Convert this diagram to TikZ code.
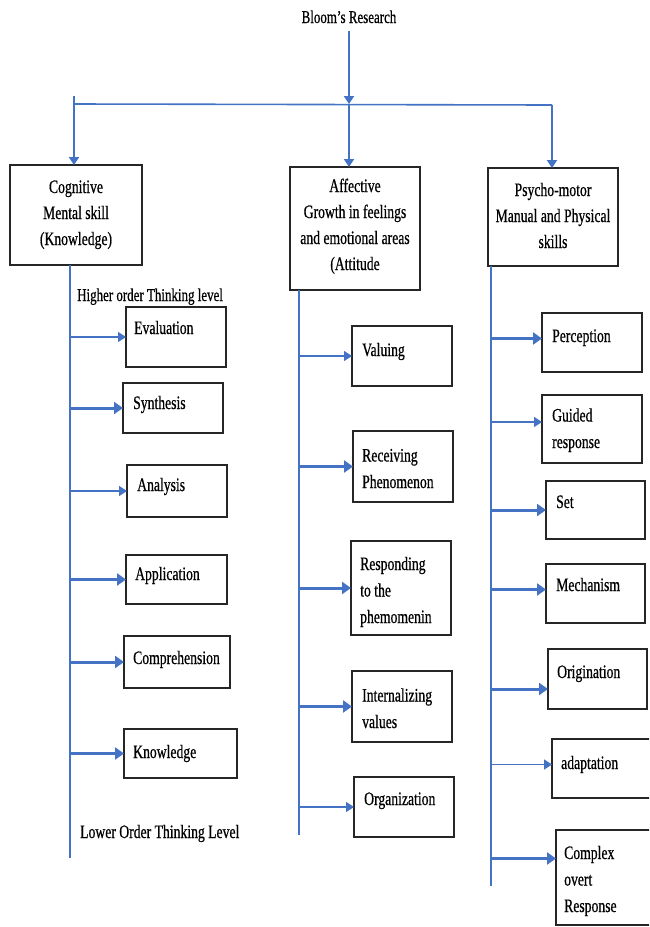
\documentclass[tikz,border=0pt]{standalone}
\usepackage{fontspec}
\setmainfont{Liberation Serif}[FakeStretch=0.72,FakeBold=0.6]
\usetikzlibrary{arrows.meta,calc}
\definecolor{lnblue}{HTML}{4472C4}
\definecolor{boxline}{HTML}{262626}
\tikzset{
  box/.style={draw=boxline,line width=1.5pt,rectangle,inner sep=0pt,outer sep=0pt,anchor=north west},
  lbl/.style={font=\fontsize{19}{26.5}\selectfont,inner sep=0pt,anchor=base west,align=left,text=black},
  hd/.style={font=\fontsize{19}{26}\selectfont,inner sep=0pt,anchor=base,align=center,text=black},
  thinarr/.style={draw=lnblue,line width=1.3pt,-{Triangle[length=8pt,width=10pt]},lnblue},
  thickarr/.style={draw=lnblue,line width=3pt,-{Triangle[length=9pt,width=12pt]},lnblue},
  toparr/.style={draw=lnblue,line width=2pt,-{Triangle[length=8pt,width=10pt]},lnblue},
  spine/.style={draw=lnblue,line width=1.3pt},
}
\newcommand\bx[5]{\node[box,minimum width={(#4)-(#2)},minimum height={(#5)-(#3)}] (#1) at (#2,#3) {};}
\begin{document}
\begin{tikzpicture}[x=1pt,y=-1pt]
\useasboundingbox (0,0) rectangle (649,927);
\clip (0,0) rectangle (649,927);
\fill[white] (0,0) rectangle (649,927);

% title and bus
\node[hd,font=\fontsize{18}{24}\selectfont] (title) at (349,23) {Bloom’s Research};
\coordinate (hub) at (349,104);
\coordinate (busL) at (74,104);
\coordinate (busR) at (552,105);
\coordinate (dl) at (74,96);

% top boxes (multi-line nodes: base = last line)
\bx{cog}{10}{165}{142}{265}
\bx{aff}{290}{167}{420}{290}
\bx{psy}{488}{168}{618}{266}
\node[hd] (tcog) at (76,245) {Cognitive\\Mental skill\\(Knowledge)};
\node[hd] (taff) at (355,270) {Affective\\Growth in feelings\\and emotional areas\\(Attitude};
\node[hd] (tpsy) at (553,248) {Psycho-motor\\Manual and Physical\\skills};

\draw[toparr] ([yshift=-8pt]title.south) -- (hub);
\draw[spine,line width=1.6pt] (busL) -- (busR);
\draw[toparr] (dl) -- (dl |- cog.north);
\draw[toparr] (hub) -- (hub |- aff.north);
\draw[toparr] (busR) -- (busR |- psy.north);

% cognitive column
\coordinate (cs1) at (70,265);
\coordinate (cs2) at (70,858);
\draw[spine] (cs1) -- (cs2);
\node[lbl,font=\fontsize{18}{24}\selectfont] (hot) at (77,301) {Higher order Thinking level};
\node[lbl] (lot) at (80,838) {Lower Order Thinking Level};
\bx{eval}{126}{307}{226}{367}
\bx{syn}{123}{383}{223}{433}
\bx{ana}{127}{465}{227}{517}
\bx{app}{126}{555}{227}{604}
\bx{comp}{124}{636}{230}{688}
\bx{know}{124}{729}{237}{778}
\node[lbl] (teval) at (134,334) {Evaluation};
\node[lbl] (tsyn) at (133,409) {Synthesis};
\node[lbl] (tana) at (137,491) {Analysis};
\node[lbl] (tapp) at (135,580) {Application};
\node[lbl] (tcomp) at (133,664) {Comprehension};
\node[lbl] (tknow) at (133,758) {Knowledge};
\draw[thinarr] (cs1 |- eval.west) -- (eval.west);
\draw[thickarr] (cs1 |- syn.west) -- (syn.west);
\draw[thinarr] (cs1 |- ana.west) -- (ana.west);
\draw[thickarr] (cs1 |- app.west) -- (app.west);
\draw[thickarr] (cs1 |- comp.west) -- (comp.west);
\draw[thickarr] (cs1 |- know.west) -- (know.west);

% affective column
\coordinate (as1) at (299,290);
\coordinate (as2) at (299,835);
\draw[spine] (as1) -- (as2);
\bx{val}{352}{326}{452}{386}
\bx{rec}{353}{431}{453}{502}
\bx{resp}{351}{541}{451}{635}
\bx{intv}{352}{671}{452}{742}
\bx{org}{354}{777}{454}{837}
\node[lbl] (tval) at (362,356) {Valuing};
\node[lbl] (trec) at (362,488) {Receiving\\Phenomenon};
\node[lbl] (tresp) at (360,623) {Responding\\to the\\phemomenin};
\node[lbl] (tintv) at (362,728) {Internalizing\\values};
\node[lbl] (torg) at (364,805) {Organization};
\draw[thinarr] (as1 |- val.west) -- (val.west);
\draw[thickarr] (as1 |- rec.west) -- (rec.west);
\draw[thickarr] (as1 |- resp.west) -- (resp.west);
\draw[thickarr] (as1 |- intv.west) -- (intv.west);
\draw[thinarr] (as1 |- org.west) -- (org.west);

% psycho-motor column
\coordinate (ps1) at (491,266);
\coordinate (ps2) at (493,886);
\draw[spine] (ps1) -- (ps1 |- ps2);
\bx{perc}{542}{313}{642}{372}
\bx{guid}{542}{395}{642}{463}
\bx{set}{546}{481}{645}{539}
\bx{mech}{546}{564}{645}{623}
\bx{orig}{548}{649}{647}{709}
\bx{adap}{552}{739}{660}{798}
\bx{cplx}{556}{830}{660}{925}
\node[lbl] (tperc) at (552,342) {Perception};
\node[lbl] (tguid) at (552,448) {Guided\\response};
\node[lbl] (tset) at (556,508) {Set};
\node[lbl] (tmech) at (556,591) {Mechanism};
\node[lbl] (torig) at (557,678) {Origination};
\node[lbl] (tadap) at (561,769) {adaptation};
\node[lbl] (tcplx) at (564,912) {Complex\\overt\\Response};
\coordinate (percA) at ($(perc.west)+(0,-4)$);
\coordinate (guidA) at ($(guid.west)+(0,-7)$);
\coordinate (mechA) at ($(mech.west)+(0,-4)$);
\coordinate (origA) at ($(orig.west)+(0,10)$);
\coordinate (adapA) at ($(adap.west)+(0,-4)$);
\coordinate (cplxA) at ($(cplx.west)+(0,-19)$);
\draw[thickarr] (ps1 |- percA) -- (percA);
\draw[thinarr] (ps1 |- guidA) -- (guidA);
\draw[thickarr] (ps1 |- set.west) -- (set.west);
\draw[thickarr] (ps1 |- mechA) -- (mechA);
\draw[thickarr] (ps1 |- origA) -- (origA);
\draw[thinarr] (ps1 |- adapA) -- (adapA);
\draw[thickarr] (ps1 |- cplxA) -- (cplxA);
\end{tikzpicture}
\end{document}
